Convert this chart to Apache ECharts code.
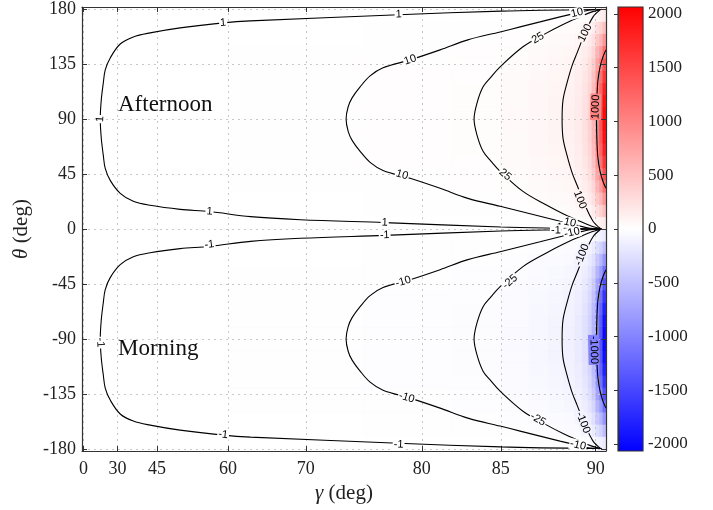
<!DOCTYPE html>
<html><head><meta charset="utf-8">
<script src="https://cdn.jsdelivr.net/npm/echarts@6/dist/echarts.min.js"></script>
<style>html,body{margin:0;padding:0;background:#fff}#c{width:713px;height:510px}</style>
</head><body><div id="c"></div>
<script>
// ---------- axes ----------
const gammaTicks = [0, 30, 45, 60, 70, 80, 85, 90];
// relative position of each gamma tick along the (non-linear) horizontal axis, 0 -> 0, 90 -> 1
const gammaTickPos = [0, 0.0664, 0.1432, 0.2818, 0.4340, 0.6604, 0.8146, 1.0];
const thetaTicks = [-180, -135, -90, -45, 0, 45, 90, 135, 180];
const colorbarTicks = [-2000, -1500, -1000, -500, 0, 500, 1000, 1500, 2000];
const colorRange = [-2065, 2065];

// ---------- colour field (cells) ----------
const heatGammaEdges = [-1.5, 60, 75, 82, 85, 86.5, 87.5, 88.3, 88.9, 89.3, 89.6, 89.8, 90.0, 90.2, 90.37, 90.54];
const heatThetaEdges = [-182,-170,-160,-150,-140,-130,-120,-110,-100,-90,-80,-70,-60,-50,-40,-30,-20,-10,0,
  10,20,30,40,50,60,70,80,90,100,110,120,130,140,150,160,170,182];
const heatLower = [
  [-0.1,-0.7,-1.4,-2.1,-3.9,-5.9,-8,-10,-14,-22,-33,-52,-91,-122,-174],
  [-0.4,-1.9,-4.1,-6.2,-12,-18,-24,-31,-43,-65,-98,-155,-272,-363,-518],
  [-0.6,-3.2,-6.8,-10,-19,-29,-39,-51,-70,-106,-161,-254,-444,-592,-846],
  [-0.9,-4.3,-9.2,-14,-26,-39,-53,-69,-95,-143,-218,-344,-603,-804,-1148],
  [-1.1,-5.3,-11,-17,-32,-48,-65,-85,-117,-177,-269,-424,-742,-990,-1414],
  [-1.2,-6.1,-13,-20,-37,-56,-75,-98,-135,-205,-311,-491,-860,-1147,-1638],
  [-1.4,-6.8,-14.5,-22,-41,-62,-83,-109,-149,-227,-344,-544,-951,-1268,-1812],
  [-1.4,-7.2,-15.5,-23,-43,-66,-89,-116,-159,-242,-367,-580,-1014,-1352,-1932],
  [-1.5,-7.5,-15.9,-24,-45,-68,-92,-120,-164,-249,-378,-598,-1046,-1394,-1992],
  [-1.5,-7.5,-15.9,-24,-45,-68,-92,-120,-164,-249,-378,-598,-1046,-1394,-1992],
  [-1.4,-7.2,-15.5,-23,-43,-66,-89,-116,-159,-242,-367,-580,-1014,-1352,-1932],
  [-1.4,-6.8,-14.5,-22,-41,-62,-83,-109,-149,-227,-344,-544,-951,-1268,-1812],
  [-1.2,-6.1,-13,-20,-37,-56,-75,-98,-135,-205,-311,-491,-860,-1147,-1638],
  [-1.1,-5.3,-11,-17,-32,-48,-65,-85,-117,-177,-269,-424,-742,-990,-1414],
  [-0.9,-4.3,-9.2,-14,-26,-39,-53,-69,-95,-143,-218,-344,-603,-804,-1148],
  [-0.6,-3.2,-6.8,-10,-19,-29,-39,-51,-70,-106,-161,-254,-444,-592,-846],
  [-0.4,-1.9,-4.1,-6.2,-12,-18,-24,-31,-43,-65,-98,-155,-272,-363,-518],
  [-0.1,-0.7,-1.4,-2.1,-3.9,-5.9,-8,-10,-14,-22,-33,-52,-91,-122,-174]
];
const heatUpper = [
  [0.1,0.7,1.4,2.1,3.9,5.9,8,10,14,22,33,52,91,122,174],
  [0.4,1.9,4.1,6.2,12,18,24,31,43,65,98,155,272,363,518],
  [0.6,3.2,6.8,10,19,29,39,51,70,106,161,254,444,592,846],
  [0.9,4.3,9.2,14,26,39,53,69,95,143,218,344,603,804,1148],
  [1.1,5.3,11,17,32,48,65,85,117,177,269,424,742,990,1414],
  [1.2,6.1,13,20,37,56,75,98,135,205,311,491,860,1147,1638],
  [1.4,6.8,14.5,22,41,62,83,109,149,227,344,544,951,1268,1812],
  [1.4,7.2,15.5,23,43,66,89,116,159,242,367,580,1014,1352,1932],
  [1.5,7.5,15.9,24,45,68,92,120,164,249,378,598,1046,1394,1992],
  [1.5,7.5,15.9,24,45,68,92,120,164,249,378,598,1046,1394,1992],
  [1.4,7.2,15.5,23,43,66,89,116,159,242,367,580,1014,1352,1932],
  [1.4,6.8,14.5,22,41,62,83,109,149,227,344,544,951,1268,1812],
  [1.2,6.1,13,20,37,56,75,98,135,205,311,491,860,1147,1638],
  [1.1,5.3,11,17,32,48,65,85,117,177,269,424,742,990,1414],
  [0.9,4.3,9.2,14,26,39,53,69,95,143,218,344,603,804,1148],
  [0.6,3.2,6.8,10,19,29,39,51,70,106,161,254,444,592,846],
  [0.4,1.9,4.1,6.2,12,18,24,31,43,65,98,155,272,363,518],
  [0.1,0.7,1.4,2.1,3.9,5.9,8,10,14,22,33,52,91,122,174]
];

// ---------- contour lines (gamma deg, theta deg) ----------
const c1Gamma = [90.0,85.0,78.0,62.9,59.0,49.9,42.4,36.0,31.0,23.5,19.1,17.4,15.6,14.7,15.6,17.4,19.1,23.5,31.0,36.0,42.4,49.9,56.1,62.9,69.3,76.8,85.0,88.1,90.2];
const c1Theta = [179.8,178.4,175.4,170.4,168.8,164.7,160.6,157.3,151.5,140.1,130.3,119.6,105.7,90,74.5,60.2,49.6,39.8,29.2,22.7,19.4,16.1,14.3,10.1,7.6,5.2,1.6,0.65,0.25];
const cm1Gamma = [90.0,85.0,78.0,62.9,59.0,49.9,42.4,36.0,31.0,23.5,19.1,17.4,15.6,14.7,15.6,17.4,19.1,23.5,31.0,36.0,42.4,49.9,56.1,62.9,69.3,76.8,85.0,88.1,90.2];
const cm1Theta = [-179.8,-178.4,-175.4,-170.4,-168.8,-164.7,-160.6,-157.3,-151.5,-140.1,-130.3,-119.6,-105.7,-90,-74.5,-60.2,-49.6,-39.8,-29.2,-22.7,-19.4,-16.1,-14.3,-10.1,-7.6,-5.2,-1.6,-0.65,-0.25];

const c10Gamma = [90.23,89.70,89.02,88.12,87.07,86.02,84.96,82.92,81.16,78.99,76.66,75.54,74.68,73.99,73.65,73.47,73.65,73.99,74.68,75.54,76.66,78.99,81.16,82.92,84.96,86.02,87.07,88.12,89.02,89.70,90.23];
const c10Theta = [179.8,179.4,177.0,173.7,169.6,165.5,161.4,154.9,146.7,138.5,132.0,125.4,116.4,107.4,100.1,90,79.9,72.6,63.6,54.6,48.0,41.5,33.3,25.1,18.6,14.5,10.4,6.3,3.0,0.6,0.2];
const cm10Gamma = [90.23,89.70,89.02,88.12,87.07,86.02,84.96,82.92,81.16,78.99,76.66,75.54,74.68,73.99,73.65,73.47,73.65,73.99,74.68,75.54,76.66,78.99,81.16,82.92,84.96,86.02,87.07,88.12,89.02,89.70,90.23];
const cm10Theta = [-179.8,-179.4,-177.0,-173.7,-169.6,-165.5,-161.4,-154.9,-146.7,-138.5,-132.0,-125.4,-116.4,-107.4,-100.1,-90,-79.9,-72.6,-63.6,-54.6,-48.0,-41.5,-33.3,-25.1,-18.6,-14.5,-10.4,-6.3,-3.0,-0.6,-0.2];

const c25Gamma = [90.33,89.80,89.17,88.28,87.33,86.17,84.96,84.39,83.88,83.50,83.31,83.50,83.88,84.39,84.96,86.17,87.33,88.28,89.17,89.80,90.33];
const c25Theta = [180,177.8,173.7,167.5,159.8,149.2,132.8,124.6,116.4,103.3,90,76.7,63.6,55.4,47.2,30.8,20.2,12.5,6.3,2.2,0];
const cm25Gamma = [90.33,89.80,89.17,88.28,87.33,86.17,84.96,84.39,83.88,83.50,83.31,83.50,83.88,84.39,84.96,86.17,87.33,88.28,89.17,89.80,90.33];
const cm25Theta = [-180,-177.8,-173.7,-167.5,-159.8,-149.2,-132.8,-124.6,-116.4,-103.3,-90,-76.7,-63.6,-55.4,-47.2,-30.8,-20.2,-12.5,-6.3,-2.2,0];

const c100Gamma = [90.23,89.86,89.44,89.02,88.75,88.49,88.28,88.23,88.28,88.49,88.75,89.02,89.44,89.86,90.23];
const c100Theta = [179.4,173.7,160.6,144.2,133.6,119.7,105.8,90,74.2,60.3,46.4,35.8,19.4,6.3,0.6];
const cm100Gamma = [90.23,89.86,89.44,89.02,88.75,88.49,88.28,88.23,88.28,88.49,88.75,89.02,89.44,89.86,90.23];
const cm100Theta = [-179.4,-173.7,-160.6,-144.2,-133.6,-119.7,-105.8,-90,-74.2,-60.3,-46.4,-35.8,-19.4,-6.3,-0.6];

const c1000Gamma = [90.54,90.38,90.23,90.12,90.07,90.04,90.07,90.12,90.23,90.38,90.54];
const c1000Theta = [146.7,140.9,132.8,122.2,109.9,90,70.1,57.8,47.2,39.1,33.3];
const cm1000Gamma = [90.54,90.38,90.23,90.12,90.07,90.04,90.07,90.12,90.23,90.38,90.54];
const cm1000Theta = [-146.7,-140.9,-132.8,-122.2,-109.9,-90,-70.1,-57.8,-47.2,-39.1,-33.3];

const contours = [
  {level: 1, g: c1Gamma, t: c1Theta}, {level: -1, g: cm1Gamma, t: cm1Theta},
  {level: 10, g: c10Gamma, t: c10Theta}, {level: -10, g: cm10Gamma, t: cm10Theta},
  {level: 25, g: c25Gamma, t: c25Theta}, {level: -25, g: cm25Gamma, t: cm25Theta},
  {level: 100, g: c100Gamma, t: c100Theta}, {level: -100, g: cm100Gamma, t: cm100Theta},
  {level: 1000, g: c1000Gamma, t: c1000Theta}, {level: -1000, g: cm1000Gamma, t: cm1000Theta}
];

// ---------- contour labels ----------
const labelLevel = [1,1,1,1,1,1, -1,-1,-1,-1,-1,-1, 10,10,10,10, -10,-10,-10,-10, 25,25, -25,-25, 100,100, -100,-100, 1000, -1000];
const labelGamma = [59.0,78.0,14.7,56.1,76.8,88.1, 59.0,78.0,14.7,56.1,76.8,87.9, 79.0,78.3,89.02,88.64, 78.4,78.7,89.07,88.75, 86.96,85.23, 85.49,86.96, 89.44,89.17, 89.28,89.33, 90.0,89.9];
const labelTheta = [168.8,175.8,90,14.3,5.2,1.5, -168.3,-176.5,-93,-12.8,-5.1,-1.2, 138.5,44.4,177.0,5.2, -43.1,-138.0,-177,-3.0, 156.3,44.4, -43.1,-156, 160.6,24, -21.0,-158.5, 100,-99];

// ---------- helpers ----------
function gammaToPos(g) {
  const n = gammaTicks.length;
  let i = 1;
  while (i < n - 1 && g > gammaTicks[i]) i++;
  const g0 = gammaTicks[i - 1], g1 = gammaTicks[i];
  const p0 = gammaTickPos[i - 1], p1 = gammaTickPos[i];
  return p0 + (g - g0) * (p1 - p0) / (g1 - g0);
}
function levelColor(v) {
  const t = Math.max(-1, Math.min(1, v / colorRange[1]));
  const k = Math.round(255 * (1 - Math.abs(t)));
  return t >= 0 ? `rgb(255,${k},${k})` : `rgb(${k},${k},255)`;
}

const heatRows = heatLower.concat(heatUpper);
const heatData = [];
for (let j = 0; j < heatRows.length; j++) {
  for (let i = 0; i < heatGammaEdges.length - 1; i++) {
    heatData.push([gammaToPos(heatGammaEdges[i]), gammaToPos(heatGammaEdges[i + 1]),
      heatThetaEdges[j], heatThetaEdges[j + 1], heatRows[j][i]]);
  }
}

const serif = '"Liberation Serif", "Times New Roman", serif';
const frameColor = '#333';
const xMin = -0.0031, xMax = 1.0201;
const yMin = -181.8, yMax = 181.8;

const series = [];
series.push({
  type: 'custom', xAxisIndex: 0, yAxisIndex: 0, silent: true, clip: true, z: 0,
  data: heatData,
  encode: {x: [0, 1], y: [2, 3]},
  renderItem: function (params, api) {
    const a = api.coord([api.value(0), api.value(3)]);
    const b = api.coord([api.value(1), api.value(2)]);
    const col = api.visual('color');
    return {type: 'rect', shape: {x: a[0], y: a[1], width: b[0] - a[0], height: b[1] - a[1]},
      style: {fill: col, stroke: col, lineWidth: 0.6}};
  }
});

contours.forEach(function (c) {
  series.push({
    type: 'line', xAxisIndex: 0, yAxisIndex: 0, silent: true, clip: true, z: 3,
    showSymbol: false, symbol: 'none', smooth: 0.35,
    lineStyle: {color: '#000', width: 1.1},
    data: c.g.map(function (g, k) { return [gammaToPos(g), c.t[k]]; })
  });
});

const labelData = labelLevel.map(function (l, k) { return [gammaToPos(labelGamma[k]), labelTheta[k], l]; });
series.push({
  type: 'custom', xAxisIndex: 0, yAxisIndex: 0, silent: true, clip: true, z: 5,
  data: labelData,
  encode: {x: 0, y: 1},
  renderItem: function (params, api) {
    const lvl = api.value(2);
    const p = api.coord([api.value(0), api.value(1)]);
    const c = contours.find(function (cc) { return cc.level === lvl; });
    let best = 1e12, ang = 0;
    const pts = c.g.map(function (g, k) { return api.coord([gammaToPos(g), c.t[k]]); });
    for (let k = 0; k < pts.length - 1; k++) {
      const ax = pts[k][0], ay = pts[k][1], bx = pts[k + 1][0], by = pts[k + 1][1];
      const dx = bx - ax, dy = by - ay;
      const L = dx * dx + dy * dy || 1e-9;
      let u = ((p[0] - ax) * dx + (p[1] - ay) * dy) / L;
      u = Math.max(0, Math.min(1, u));
      const qx = ax + u * dx - p[0], qy = ay + u * dy - p[1];
      const d = qx * qx + qy * qy;
      if (d < best) { best = d; ang = Math.atan2(dy, dx) * 180 / Math.PI; }
    }
    if (ang > 90) ang -= 180;
    if (ang <= -90) ang += 180;
    return {
      type: 'text', x: p[0], y: p[1], rotation: -ang * Math.PI / 180,
      style: {text: String(lvl), fill: '#000', font: '11px "Liberation Sans", Arial, sans-serif',
        align: 'center', verticalAlign: 'middle', backgroundColor: levelColor(lvl), padding: [0, 1]}
    };
  }
});

// colour bar
series.push({
  type: 'custom', xAxisIndex: 2, yAxisIndex: 2, silent: true, z: 2,
  data: [[0, colorRange[0], 1, colorRange[1]]],
  encode: {x: [0, 2], y: [1, 3]},
  renderItem: function (params, api) {
    const a = api.coord([0, colorRange[1]]);
    const b = api.coord([1, colorRange[0]]);
    return {type: 'rect', shape: {x: a[0], y: a[1], width: b[0] - a[0], height: b[1] - a[1]},
      style: {fill: new echarts.graphic.LinearGradient(0, 0, 0, 1, [
        {offset: 0, color: '#ff0000'}, {offset: 0.5, color: '#ffffff'}, {offset: 1, color: '#0000ff'}]),
        stroke: frameColor, lineWidth: 1.2}};
  }
});

const tickLabelStyle = {fontFamily: serif, fontSize: 18, color: '#222'};
const gridLineStyle = {color: '#c8c8c8', width: 1, type: [2, 4]};
const option = {
  animation: false,
  backgroundColor: '#ffffff',
  grid: [
    {left: 82, right: 107, top: 7, bottom: 59, show: false},
    {left: 618, width: 25, top: 7, bottom: 59, show: false}
  ],
  visualMap: {type: 'continuous', show: false, min: colorRange[0], max: colorRange[1], dimension: 4,
    seriesIndex: 0, inRange: {color: ['#0000ff', '#ffffff', '#ff0000']}},
  xAxis: [
    {type: 'value', gridIndex: 0, min: xMin, max: xMax, position: 'bottom', z: 1,
      axisLine: {show: true, onZero: false, lineStyle: {color: frameColor, width: 1.2}},
      axisTick: {show: true, inside: true, length: 5, customValues: gammaTickPos, lineStyle: {color: frameColor}},
      axisLabel: Object.assign({show: true, margin: 9, customValues: gammaTickPos,
        formatter: function (v) {
          for (let i = 0; i < gammaTickPos.length; i++) if (Math.abs(gammaTickPos[i] - v) < 1e-6) return String(gammaTicks[i]);
          return '';
        }}, tickLabelStyle),
      splitLine: {show: true, lineStyle: gridLineStyle},
      name: '{i|γ} (deg)', nameLocation: 'middle', nameGap: 30,
      nameTextStyle: {fontFamily: serif, fontSize: 21, color: '#222',
        rich: {i: {fontFamily: serif, fontSize: 21, fontStyle: 'italic', color: '#222'}}}
    },
    {type: 'value', gridIndex: 0, min: xMin, max: xMax, position: 'top', z: 4,
      axisLine: {show: true, onZero: false, lineStyle: {color: frameColor, width: 1.2}},
      axisTick: {show: true, inside: true, length: 5, customValues: gammaTickPos, lineStyle: {color: frameColor}},
      axisLabel: {show: false}, splitLine: {show: false}},
    {type: 'value', gridIndex: 1, min: 0, max: 1, show: false}
  ],
  yAxis: [
    {type: 'value', gridIndex: 0, min: yMin, max: yMax, position: 'left', z: 1,
      axisLine: {show: true, onZero: false, lineStyle: {color: frameColor, width: 1.2}},
      axisTick: {show: true, inside: true, length: 5, customValues: thetaTicks, lineStyle: {color: frameColor}},
      axisLabel: Object.assign({show: true, margin: 6, customValues: thetaTicks}, tickLabelStyle),
      splitLine: {show: true, lineStyle: gridLineStyle},
      name: '{i|θ} (deg)', nameLocation: 'middle', nameGap: 46, nameRotate: 90,
      nameTextStyle: {fontFamily: serif, fontSize: 21, color: '#222',
        rich: {i: {fontFamily: serif, fontSize: 21, fontStyle: 'italic', color: '#222'}}}
    },
    {type: 'value', gridIndex: 0, min: yMin, max: yMax, position: 'right', z: 4,
      axisLine: {show: true, onZero: false, lineStyle: {color: frameColor, width: 1.2}},
      axisTick: {show: true, inside: true, length: 5, customValues: thetaTicks, lineStyle: {color: frameColor}},
      axisLabel: {show: false}, splitLine: {show: false}},
    {type: 'value', gridIndex: 1, min: colorRange[0], max: colorRange[1], position: 'right', z: 4,
      axisLine: {show: false},
      axisTick: {show: true, inside: true, length: 4, customValues: colorbarTicks, lineStyle: {color: frameColor}},
      axisLabel: {show: true, margin: 5, customValues: colorbarTicks, fontFamily: serif, fontSize: 17, color: '#222',
        formatter: function (v) { return String(v); }},
      splitLine: {show: false}}
  ],
  graphic: [
    {type: 'text', left: 118, top: 93, z: 10, style: {text: 'Afternoon', font: '23px ' + serif, fill: '#111'}},
    {type: 'text', left: 118, top: 337, z: 10, style: {text: 'Morning', font: '23px ' + serif, fill: '#111'}}
  ],
  series: series
};

const chart = echarts.init(document.getElementById('c'), null, {renderer: 'canvas'});
chart.setOption(option);
</script>
</body></html>
